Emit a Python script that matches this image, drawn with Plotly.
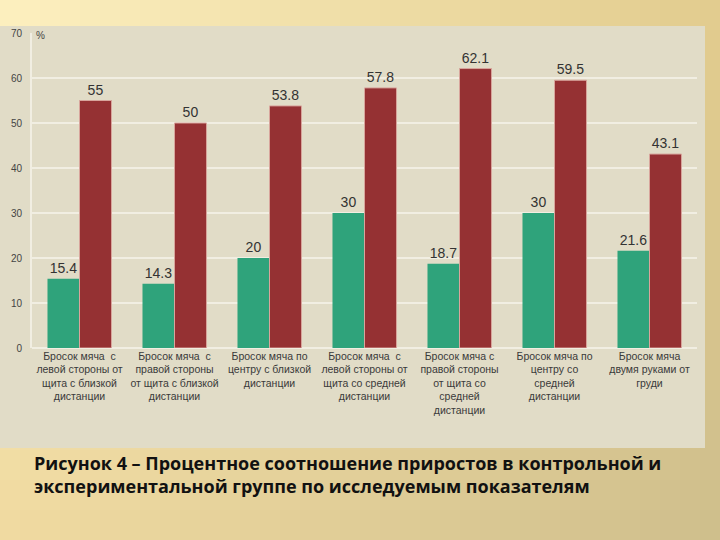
import plotly.graph_objects as go

categories = [
    "Бросок мяча  с<br>левой стороны от<br>щита с близкой<br>дистанции",
    "Бросок мяча  с<br>правой стороны<br>от щита с близкой<br>дистанции",
    "Бросок мяча по<br>центру с близкой<br>дистанции",
    "Бросок мяча  с<br>левой стороны от<br>щита со средней<br>дистанции",
    "Бросок мяча с<br>правой стороны<br>от щита со<br>средней<br>дистанции",
    "Бросок мяча по<br>центру со<br>средней<br>дистанции",
    "Бросок мяча<br>двумя руками от<br>груди",
]
control = [15.4, 14.3, 20, 30, 18.7, 30, 21.6]
experimental = [55, 50, 53.8, 57.8, 62.1, 59.5, 43.1]
y_ticks = [0, 10, 20, 30, 40, 50, 60, 70]
caption = ("Рисунок 4 – Процентное соотношение приростов в контрольной и<br>"
           "экспериментальной группе по исследуемым показателям")

W, H = 720, 540
L, R, T, B = 32, 23, 33, 192
pw, ph = W - L - R, H - T - B


def px2x(p):
    return (p - L) / pw


def px2y(p):
    return 1 - (p - T) / ph


def lerp(a, b, t):
    return tuple(a[i] + (b[i] - a[i]) * t for i in range(3))


tl = (253, 240, 192)
tr = (226, 204, 142)
bl = (240, 218, 160)
br = (206, 190, 140)

shapes = []
nx, ny = 36, 18
for i in range(nx):
    for j in range(ny):
        u = (i + 0.5) / nx
        v = (j + 0.5) / ny
        c = lerp(lerp(tl, tr, u), lerp(bl, br, u), v)
        x0, x1 = W * i / nx, W * (i + 1) / nx + 1
        y0, y1 = H * j / ny, H * (j + 1) / ny + 1
        shapes.append(dict(type="rect", xref="paper", yref="paper", layer="below",
                           x0=px2x(x0), x1=px2x(x1), y0=px2y(y1), y1=px2y(y0),
                           line=dict(width=0),
                           fillcolor="rgb(%d,%d,%d)" % tuple(int(round(k)) for k in c)))
# chart panel
shapes.append(dict(type="rect", xref="paper", yref="paper", layer="below",
                   x0=px2x(0), x1=px2x(705), y0=px2y(448), y1=px2y(26),
                   line=dict(width=0), fillcolor="#e1dcc7"))

fig = go.Figure()
fig.add_trace(go.Bar(
    x=categories, y=control, name="Контрольная группа",
    marker=dict(color="#2fa37b", line=dict(width=0)),
    text=[("%g" % v) for v in control], textposition="outside",
    textfont=dict(size=14, color="#333333", family="Liberation Sans, Arial"),
    cliponaxis=False,
))
fig.add_trace(go.Bar(
    x=categories, y=experimental, name="Экспериментальная группа",
    marker=dict(color="#953133", line=dict(width=1, color="#d8a59c")),
    text=[("%g" % v) for v in experimental], textposition="outside",
    textfont=dict(size=14, color="#333333", family="Liberation Sans, Arial"),
    cliponaxis=False,
))

fig.update_layout(
    width=W, height=H,
    margin=dict(l=L, r=R, t=T, b=B, pad=0),
    paper_bgcolor="#e1dcc7",
    plot_bgcolor="rgba(0,0,0,0)",
    barmode="group", bargap=0.326, bargroupgap=0,
    showlegend=False,
    shapes=shapes,
    font=dict(family="Liberation Sans, Arial", color="#333333"),
    xaxis=dict(
        showgrid=False, showline=False, ticks="",
        tickfont=dict(size=10.5, color="#3a3a3a"), tickangle=0,
    ),
    yaxis=dict(
        range=[0, 70], tickvals=y_ticks, showgrid=True,
        gridcolor="#f1eee2", gridwidth=2,
        zeroline=True, zerolinecolor="#f1eee2", zerolinewidth=2,
        showline=True, linecolor="#f1eee2", linewidth=2,
        tickfont=dict(size=10, color="#444444"), ticks="", ticklabelstandoff=6,
    ),
    annotations=[
        dict(text="%", xref="paper", yref="paper", x=px2x(34), y=px2y(36),
             xanchor="left", yanchor="middle", showarrow=False,
             font=dict(size=10, color="#444444")),
        dict(text="<b>" + caption + "</b>", xref="paper", yref="paper",
             x=px2x(32), y=px2y(449), xanchor="left", yanchor="top",
             align="left", showarrow=False,
             font=dict(size=18, color="#111111", family="Open Sans, Lato, sans-serif")),
    ],
)

fig.write_html("out.html")
